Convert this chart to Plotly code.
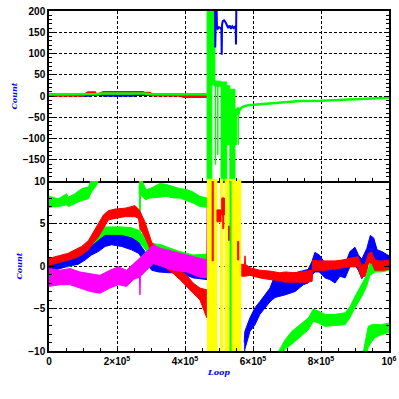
import plotly.graph_objects as go
from plotly.subplots import make_subplots

# ---------------- x ticks ----------------
X_TICKS = [0, 2e5, 4e5, 6e5, 8e5, 1e6]
X_TICK_TEXT = ["0", "2×10<sup>5</sup>", "4×10<sup>5</sup>", "6×10<sup>5</sup>", "8×10<sup>5</sup>", "10<sup>6</sup>"]
TOP_Y_TICKS = [-150, -100, -50, 0, 50, 100, 150, 200]
BOT_Y_TICKS = [-10, -5, 0, 5, 10]

# ---------------- bottom panel (noise bands: lower / upper edge) ----------------
G2A_X = [0, 27e3, 52e3, 57e3, 76e3, 96e3, 116e3, 125e3, 140e3, 150e3]
G2A_LO = [6.9, 7.0, 7.2, 7.0, 7.3, 7.7, 7.9, 8.7, 9.5, 10.5]
G2A_HI = [8.2, 7.9, 8.5, 8.1, 8.5, 9.1, 9.3, 10.2, 11, 12]

G2B_X = [265e3, 267e3, 268e3, 269e3, 272e3, 285e3, 297e3, 326e3, 345e3, 366e3, 385e3, 405e3, 424e3, 444e3, 465e3]
G2B_LO = [9.5, 8.5, 3.3, 8.4, 8.3, 7.8, 8.0, 8.1, 8.2, 8.0, 8.0, 7.7, 7.4, 7.0, 6.9]
G2B_HI = [11, 10.5, 10.5, 10.4, 10.2, 9.0, 9.1, 9.7, 9.6, 9.3, 9.1, 9.0, 8.7, 8.2, 8.0]

G2C_X = [925e3, 932e3, 939e3, 949e3, 959e3, 978e3, 1000e3]
G2C_LO = [-11, -10.5, -9.6, -8.9, -8.4, -8.1, -7.8]
G2C_HI = [-10, -8.5, -7.1, -6.9, -6.9, -6.9, -6.7]

G1A_X = [0, 27e3, 57e3, 86e3, 106e3, 125e3, 145e3, 165e3, 184e3, 214e3, 243e3, 263e3, 277e3, 292e3, 312e3, 331e3, 356e3, 385e3, 424e3, 465e3]
G1A_LO = [-0.4, -0.3, -0.1, 0.3, 0.9, 1.5, 2.5, 3.4, 3.4, 3.4, 3.3, 2.8, 2.3, 1.5, 1.3, 1.2, 1.1, 0.7, 0.3, 0.0]
G1A_HI = [0.7, 0.7, 0.9, 1.5, 2.3, 3.3, 4.0, 4.6, 4.6, 4.6, 4.5, 4.2, 3.6, 2.8, 2.6, 2.5, 2.1, 1.7, 1.3, 1.4]

G1B_X = [676e3, 685e3, 694e3, 714e3, 738e3, 763e3, 777e3, 792e3, 812e3, 841e3, 871e3, 885e3, 900e3, 920e3, 934e3, 944e3, 959e3, 978e3, 1000e3]
G1B_LO = [-11, -10.5, -9.8, -9.2, -8.4, -7.5, -6.5, -6.7, -7.1, -7.0, -6.9, -6.1, -4.9, -3.6, -2.4, -1.1, -0.7, -0.7, -0.5]
G1B_HI = [-10, -9.3, -8.7, -7.7, -6.9, -6.1, -5.1, -5.3, -5.7, -5.7, -5.5, -4.8, -3.6, -2.2, -1.1, 0.3, 0.7, 0.6, 0.7]

BA_X = [0, 30e3, 57e3, 86e3, 106e3, 125e3, 145e3, 165e3, 184e3, 214e3, 243e3, 263e3, 282e3, 302e3, 322e3, 356e3, 385e3, 424e3, 465e3]
BA_LO = [-0.7, -0.3, 0.0, 0.2, 0.7, 1.3, 1.7, 2.3, 2.5, 2.3, 1.9, 1.5, 0.5, -0.5, -0.7, -0.8, -0.8, -1.4, -1.6]
BA_HI = [0.3, 1.0, 1.3, 1.5, 1.9, 2.3, 3.0, 3.6, 3.6, 3.6, 3.3, 2.8, 1.7, 0.9, 0.7, 0.5, 0.1, -0.2, -0.5]

BB_X = [574e3, 576e3, 591e3, 606e3, 620e3, 635e3, 650e3, 665e3, 694e3, 724e3, 748e3, 762e3, 773e3, 782e3, 795e3, 812e3, 826e3, 841e3, 856e3, 871e3, 885e3, 900e3, 910e3, 920e3, 935e3, 945e3, 955e3, 965e3, 979e3, 1000e3]
BB_LO = [-11, -9.8, -7.7, -6.9, -5.7, -4.9, -4.2, -3.7, -3.4, -3.0, -2.2, -2.0, -1.1, -0.7, -0.7, -1.4, -1.6, -2.0, -1.2, -1.4, -0.1, 0.1, -0.5, -1.5, -0.2, 1.3, 0.7, 0.1, 0.1, 0.0]
BB_HI = [-9, -7.7, -6.1, -4.9, -4.2, -3.4, -2.6, -1.0, -1.1, -0.8, -0.5, -0.4, 0.5, 1.6, 1.3, 0.3, 0.1, -0.5, 0.5, 0.2, 1.7, 2.2, 1.3, 0.8, 2.1, 3.6, 3.3, 1.9, 1.7, 1.2]

RA_X = [0, 27e3, 57e3, 76e3, 96e3, 116e3, 130e3, 145e3, 160e3, 174e3, 194e3, 224e3, 253e3, 263e3, 268e3, 282e3, 292e3, 302e3, 326e3, 346e3, 366e3, 385e3, 405e3, 424e3, 444e3, 464e3]
RA_LO = [0.1, 0.4, 0.7, 0.9, 1.3, 1.9, 2.7, 3.4, 4.4, 5.4, 5.6, 5.8, 5.8, 5.6, 4.4, 3.4, 2.5, 1.5, 0.5, -0.3, -0.9, -1.6, -2.4, -3.2, -4.0, -6.1]
RA_HI = [0.9, 1.2, 1.5, 1.9, 2.3, 3.0, 4.0, 5.0, 6.0, 6.5, 6.7, 6.8, 7.1, 6.7, 6.4, 5.2, 4.0, 2.8, 1.7, 0.7, 0.3, -0.5, -1.1, -2.0, -2.6, -2.8]

RB_X = [560e3, 567e3, 575e3, 576.5e3, 578e3, 591e3, 620e3, 650e3, 679e3, 694e3, 724e3, 762e3, 774e3, 776e3, 790e3, 812e3, 841e3, 862e3, 885e3, 909e3, 914e3, 918e3, 930e3, 935e3, 940e3, 950e3, 958e3, 970e3, 985e3, 1000e3]
RB_LO = [-1.0, -1.2, -1.2, -1.2, -1.2, -1.1, -1.4, -1.6, -1.7, -1.9, -1.9, -1.9, -1.8, -0.6, -0.5, -0.5, -0.3, -0.2, -0.1, -0.1, -0.8, -1.3, -1.2, -0.5, 0.4, 0.3, -0.5, -0.5, -0.5, -0.4]
RB_HI = [0.3, 0.2, 0.2, 1.2, 0.2, -0.2, -0.5, -0.6, -0.8, -0.7, -0.8, -0.6, -0.5, 0.7, 0.6, 0.6, 0.6, 0.7, 0.9, 1.1, 0.6, 0.1, 0.2, 0.8, 1.5, 1.6, 0.7, 0.6, 0.6, 0.7]

M_X = [0, 32e3, 62e3, 91e3, 121e3, 150e3, 179e3, 204e3, 228e3, 248e3, 266e3, 267.5e3, 269e3, 287e3, 307e3, 326e3, 366e3, 405e3, 444e3, 464e3, 465e3, 466.5e3]
M_LO = [-2.4, -2.2, -2.2, -2.6, -3.0, -3.2, -2.6, -2.2, -2.4, -1.6, -1.3, -3.4, -1.2, -0.5, 0.3, 0.1, -0.5, -0.7, -1.3, -1.4, -1.4, -1.4]
M_HI = [-0.3, -0.5, -0.3, -0.7, -0.9, -1.1, -0.5, -0.1, -0.5, 0.3, 0.9, 0.9, 1.0, 1.7, 2.5, 2.1, 1.7, 1.3, 0.9, 0.7, 6.8, 6.8]

# yellow bursts (x-intervals)
Y_X0 = [466e3, 504e3, 518e3, 532e3, 562e3]
Y_X1 = [494e3, 511e3, 528e3, 560e3, 564e3]
Y_BOT_LO, Y_BOT_HI = -11, 11
Y_TOP_LO, Y_TOP_HI = -215, -196

# red / green bursts inside yellow region
RS_X0 = [480e3, 494e3, 508e3, 511e3, 528e3, 555e3]
RS_X1 = [483e3, 506e3, 516e3, 514e3, 531e3, 558e3]
RS_LO = [0.6, 5.2, 6.0, 4.4, 3.0, 0.7]
RS_HI = [11, 6.6, 8.0, 8.0, 4.7, 2.9]
GS_X0 = [532.5e3]
GS_X1 = [535.5e3]
GS_LO = [-11]
GS_HI = [11]

# ---------------- top panel ----------------
TB_X = [0, 95e3, 97e3, 120e3, 122e3, 158e3, 160e3, 250e3, 252e3, 465e3]
TB_Y = [3, 3, 1, 1, 3, 3, 1, 1, 3, 3]
TR_X = [0, 100e3, 115e3, 135e3, 140e3, 160e3, 276e3, 280e3, 297e3, 302e3, 390e3, 395e3, 465e3]
TR_Y = [1, 1, 8, 8, 2, 9, 9, 7, 7, 2, 1, -2, -2]
TG_X = [0, 50e3, 100e3, 140e3, 160e3, 280e3, 300e3, 350e3, 400e3, 465e3]
TG_Y = [3.5, 3.5, 4, 5, 6, 6, 4, 3.5, 3.5, 3.5]

TGB_X0 = [465e3, 479e3, 487e3, 489e3, 496e3, 506e3, 523e3, 532e3, 547e3, 552e3, 556e3]
TGB_X1 = [479e3, 488e3, 506e3, 490e3, 497e3, 523e3, 532e3, 547e3, 552e3, 560e3, 557e3]
TGB_LO = [-215, 26, 23, -161, -138, -215, -114, -215, -114, -43, -114]
TGB_HI = [215, 215, 35, 35, 35, 33, 24, 16, -32, -28, -28]

TGT_X = [558e3, 561e3, 565e3, 571e3, 585e3, 600e3, 641e3, 700e3, 738e3, 800e3, 835e3, 900e3, 935e3, 970e3, 1000e3]
TGT_Y = [-40, -32, -28, -25, -22, -21, -18, -14, -12, -11, -10, -8, -7, -5, -4]

TBC_X = [488e3, 489e3, 490e3, 491e3, 493e3, 494e3, 496e3, 500e3, 504e3, 507e3, 508e3, 509e3, 511e3, 515e3, 519e3, 523e3, 527e3, 531e3, 535e3, 539e3, 543e3, 547e3, 549e3, 550e3, 551e3]
TBC_Y = [210, 114, 160, 158, 210, 160, 158, 162, 160, 156, 97, 168, 176, 178, 174, 165, 160, 166, 158, 164, 160, 163, 160, 121, 210]

GREEN, RED, BLUE, MAG, YEL = "#00ff00", "#ff0000", "#0000ff", "#ff00ff", "#ffff00"

fig = make_subplots(rows=2, cols=1, vertical_spacing=0)


def band(x, lo, hi, color, row):
    fig.add_trace(go.Scatter(x=list(x) + list(x)[::-1], y=list(hi) + list(lo)[::-1],
                             fill="toself", fillcolor=color, mode="lines",
                             line=dict(color=color, width=1), hoverinfo="skip",
                             showlegend=False), row=row, col=1)


def rects(x0, x1, lo, hi, color, row):
    xs, ys = [], []
    n = len(x0)
    lo = lo if isinstance(lo, list) else [lo] * n
    hi = hi if isinstance(hi, list) else [hi] * n
    for a, b, l, h in zip(x0, x1, lo, hi):
        xs += [a, b, b, a, a, None]
        ys += [l, l, h, h, l, None]
    fig.add_trace(go.Scatter(x=xs, y=ys, fill="toself", fillcolor=color, mode="lines",
                             line=dict(color=color, width=1), hoverinfo="skip",
                             showlegend=False), row=row, col=1)


def line(x, y, color, row, w=2.5):
    fig.add_trace(go.Scatter(x=x, y=y, mode="lines", line=dict(color=color, width=w),
                             hoverinfo="skip", showlegend=False), row=row, col=1)


# top panel
line(TB_X, TB_Y, BLUE, 1)
line(TR_X, TR_Y, RED, 1)
line(TG_X, TG_Y, GREEN, 1)
rects(TGB_X0, TGB_X1, TGB_LO, TGB_HI, GREEN, 1)
line(TGT_X, TGT_Y, GREEN, 1)
rects(Y_X0, Y_X1, Y_TOP_LO, Y_TOP_HI, YEL, 1)
line(TBC_X, TBC_Y, BLUE, 1, 2)

# bottom panel
band(G2A_X, G2A_LO, G2A_HI, GREEN, 2)
band(G2B_X, G2B_LO, G2B_HI, GREEN, 2)
band(G2C_X, G2C_LO, G2C_HI, GREEN, 2)
band(G1A_X, G1A_LO, G1A_HI, GREEN, 2)
band(G1B_X, G1B_LO, G1B_HI, GREEN, 2)
band(BA_X, BA_LO, BA_HI, BLUE, 2)
band(BB_X, BB_LO, BB_HI, BLUE, 2)
band(RA_X, RA_LO, RA_HI, RED, 2)
band(RB_X, RB_LO, RB_HI, RED, 2)
band(M_X, M_LO, M_HI, MAG, 2)
rects(Y_X0, Y_X1, Y_BOT_LO, Y_BOT_HI, YEL, 2)
rects(RS_X0, RS_X1, RS_LO, RS_HI, RED, 2)
rects(GS_X0, GS_X1, GS_LO, GS_HI, GREEN, 2)

tickfont = dict(family="Liberation Sans", size=10, color="black", weight="bold")
titlefont = dict(family="DejaVu Serif", size=8, color="blue", weight="bold", style="italic")

xcommon = dict(range=[0, 1e6], showline=True, linecolor="black", linewidth=1.5,
               ticks="inside", ticklen=5, tickwidth=1, tickcolor="black",
               tickmode="array", tickvals=X_TICKS, ticktext=X_TICK_TEXT,
               showgrid=True, gridcolor="black", gridwidth=1, griddash="3px,2px",
               zeroline=False, tickfont=tickfont, automargin=False,
               minor=dict(dtick=5e4, tick0=0, ticks="inside", ticklen=3, tickwidth=1,
                          tickcolor="black", showgrid=False))
fig.update_xaxes(**xcommon)
fig.update_xaxes(showticklabels=False, mirror=True, row=1, col=1)
fig.update_xaxes(mirror=False, title=dict(text="Loop", font=titlefont, standoff=4), row=2, col=1)

ycommon = dict(showline=True, linecolor="black", linewidth=1.5, mirror="ticks",
               ticks="inside", ticklen=5, tickwidth=1, tickcolor="black",
               showgrid=True, gridcolor="black", gridwidth=1, griddash="3px,2px",
               zeroline=False, tickfont=tickfont, tickmode="array", automargin=False,
               title=dict(text="Count", font=titlefont, standoff=4))
fig.update_yaxes(**ycommon)
fig.update_yaxes(range=[-200, 200], tickvals=TOP_Y_TICKS,
                 minor=dict(dtick=10, tick0=0, ticks="inside", ticklen=3, tickwidth=1,
                            tickcolor="black", showgrid=False), row=1, col=1)
fig.update_yaxes(range=[-10, 10], tickvals=BOT_Y_TICKS,
                 minor=dict(dtick=1, tick0=0, ticks="inside", ticklen=3, tickwidth=1,
                            tickcolor="black", showgrid=False), row=2, col=1)

fig.update_layout(width=399, height=399, margin=dict(l=49, r=10, t=11, b=48),
                  paper_bgcolor="white", plot_bgcolor="white", showlegend=False)

fig.write_html("out.html", config={"displayModeBar": False},
               post_script="document.body.style.margin='0px';document.body.style.padding='0px';")
